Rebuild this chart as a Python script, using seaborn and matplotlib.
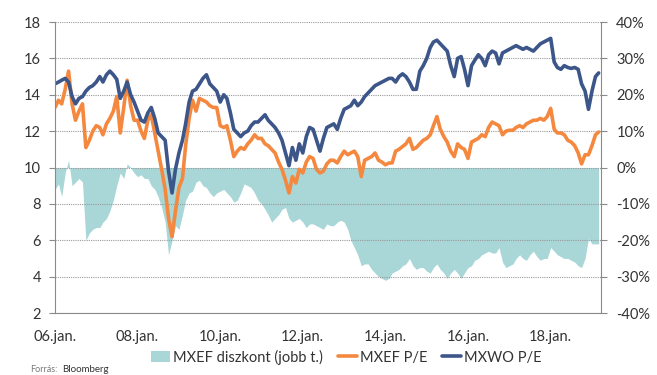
import pandas as pd
import seaborn as sns
import matplotlib.pyplot as plt
from matplotlib.patches import Patch
from matplotlib.lines import Line2D

# monthly values, Jan 2006 .. Mar 2019
mxwo_pe = [14.6, 14.7, 14.8, 14.9, 14.7, 13.9, 13.5, 13.8, 13.9, 14.2,
           14.4, 14.5, 14.7, 15.0, 14.7, 15.1, 15.3, 15.1, 14.85, 13.8,
           14.2, 14.7, 14.0, 13.6, 13.1, 12.6, 12.5, 13.0, 13.3, 12.7,
           11.9, 11.7, 11.5, 9.8, 8.6, 9.9, 10.8, 11.5, 12.4, 13.6,
           14.2, 14.3, 14.6, 14.9, 15.1, 14.6, 14.4, 14.2, 13.6, 14.0,
           13.8, 13.0, 12.1, 11.9, 11.7, 11.9, 12.0, 12.3, 12.5, 12.5,
           12.7, 12.9, 12.6, 12.4, 12.2, 11.9, 11.5, 10.8, 10.1, 11.1,
           10.4, 11.3, 10.8, 11.7, 12.2, 12.1, 11.5, 10.9, 11.6, 12.2,
           12.3, 12.4, 12.1, 12.7, 13.2, 13.3, 13.4, 13.7, 13.4, 13.6,
           13.9, 14.1, 14.3, 14.5, 14.6, 14.7, 14.8, 14.9, 14.9, 14.7,
           15.0, 15.15, 15.0, 14.7, 14.3, 14.3, 15.3, 15.6, 16.0, 16.6,
           16.9, 17.0, 16.8, 16.6, 16.4, 15.6, 15.0, 16.0, 16.1, 15.4,
           14.5, 15.6, 15.9, 16.2, 16.0, 15.6, 16.2, 16.4, 16.3, 15.7,
           16.3, 16.4, 16.5, 16.6, 16.7, 16.6, 16.5, 16.6, 16.5, 16.4,
           16.6, 16.8, 16.9, 17.0, 17.1, 15.8, 15.5, 15.4, 15.6, 15.5,
           15.45, 15.5, 15.4, 14.6, 14.2, 13.2, 14.2, 15.0, 15.2]

mxef_pe = [13.3, 13.7, 13.5, 14.3, 15.3, 13.5, 12.6, 13.1, 13.5, 11.1,
           11.5, 12.0, 12.3, 12.2, 11.8, 12.4, 12.7, 13.1, 13.9, 11.9,
           13.3, 14.8, 13.4, 12.6, 12.6, 12.0, 11.6, 12.6, 12.9, 11.9,
           10.9, 9.9, 8.8, 7.2, 6.2, 7.6, 8.9, 9.4, 11.2, 12.7,
           13.7, 13.1, 13.8, 13.7, 13.6, 13.4, 13.3, 13.3, 12.3, 12.2,
           12.3, 11.5, 10.6, 10.9, 11.1, 11.0, 11.3, 11.5, 11.8, 11.6,
           11.6, 11.3, 11.2, 11.0, 10.8, 10.3, 9.9, 9.3, 8.6, 9.5,
           9.15, 9.9, 9.7, 10.3, 10.6, 10.5, 9.9, 9.7, 9.8, 10.2,
           10.4, 10.4, 10.25, 10.6, 10.9, 10.7, 10.8, 10.9, 10.6, 9.5,
           10.4, 10.5, 10.6, 10.8, 10.4, 10.3, 10.15, 10.25, 10.25, 10.9,
           11.0, 11.15, 11.3, 11.6, 11.0, 11.1, 11.3, 11.5, 11.6, 11.8,
           12.3, 12.8, 12.1, 11.7, 11.4, 10.9, 10.6, 11.3, 11.1, 11.0,
           10.5, 11.4, 11.5, 11.6, 11.8, 11.7, 12.2, 12.5, 12.4, 12.3,
           11.8, 12.0, 12.05, 12.05, 12.2, 12.3, 12.2, 12.4, 12.5, 12.6,
           12.6, 12.7, 12.6, 12.8, 13.25, 12.1, 11.9, 11.9, 11.8, 11.5,
           11.4, 11.2, 10.8, 10.2, 10.7, 10.7, 11.2, 11.8, 11.95]

# discount in percent (right axis)
mxef_discount = [-6, -4.5, -8, -1.5, 2, -5, -4, -3, -4, -20,
                 -18, -17, -16.5, -16.5, -15, -14, -12, -9, -5, -1.5,
                 -3, 1, 0, -1.5, -2.5, -2, -3, -3, -5, -6,
                 -8, -11, -15, -24, -20, -16, -17, -13, -9, -7,
                 -6.5, -4, -3.5, -5, -5.5, -7, -8, -7, -6.5, -6,
                 -7, -8, -9.5, -9, -7, -4.5, -5, -5.5, -7, -9,
                 -10, -11.5, -13, -15, -14, -13, -11.5, -11, -14, -15,
                 -14.5, -14, -15, -16.5, -15.5, -15.5, -16, -16.5, -17, -15.5,
                 -16, -16, -15, -14.5, -15, -17, -20, -22, -24, -27,
                 -26.5, -26.5, -28, -29, -30, -30.5, -31, -30.5, -29, -28.5,
                 -28, -27, -26.5, -25, -27, -28, -27.5, -27.5, -28.5, -29,
                 -27.5, -26.5, -28, -29, -30.5, -29, -28, -29, -30.5, -29,
                 -27.5, -27, -25.5, -25, -24, -23.5, -23, -23.5, -23.5, -22,
                 -26, -27.5, -27, -26.5, -25, -24, -25, -25.5, -24, -23,
                 -24.5, -25.5, -25, -25, -22, -23, -24, -24.5, -25, -25,
                 -25.5, -26, -27, -27.5, -25, -19.5, -21, -21, -21]

xtick_dates = ["2006-01-01", "2008-01-01", "2010-01-01", "2012-01-01",
               "2014-01-01", "2016-01-01", "2018-01-01"]
xtick_labels = ["06.jan.", "08.jan.", "10.jan.", "12.jan.", "14.jan.", "16.jan.", "18.jan."]

dates = pd.date_range("2006-01-01", periods=len(mxwo_pe), freq="MS")
df = pd.DataFrame({"date": dates, "MXEF P/E": mxef_pe, "MXWO P/E": mxwo_pe,
                   "diszkont": mxef_discount})

navy = "#3d5689"
orange = "#f5883f"
teal = "#a9d6d7"
grey = "#8a8a8a"

sns.set_style("white")
plt.rcParams["font.family"] = ["Lato", "DejaVu Sans"]

fig, ax = plt.subplots(figsize=(6.57, 3.75), dpi=100)
fig.subplots_adjust(left=0.0837, right=0.9148, top=0.9413, bottom=0.1653)
ax2 = ax.twinx()

# area on the right axis, lines on the left axis drawn above it
ax2.fill_between(df["date"], df["diszkont"], 0, color=teal, lw=0)
ax.set_zorder(ax2.get_zorder() + 1)
ax.patch.set_visible(False)

sns.lineplot(data=df, x="date", y="MXEF P/E", ax=ax, color=orange, lw=2.6)
sns.lineplot(data=df, x="date", y="MXWO P/E", ax=ax, color=navy, lw=2.6)

ax.set_xlim(pd.Timestamp("2006-01-01"), pd.Timestamp("2019-03-22"))
ax.set_ylim(2, 18)
ax.set_yticks(range(2, 19, 2))
ax2.set_ylim(-40, 40)
ax2.set_yticks(range(-40, 41, 10))
ax2.set_yticklabels([f"{v}%" for v in range(-40, 41, 10)])
ax.set_xticks(pd.to_datetime(xtick_dates))
ax.set_xticklabels(xtick_labels)
ax.set_xlabel(None)
ax.set_ylabel(None)

ax.yaxis.grid(True, ls=(0, (1, 1)), color="#9a9a9a", lw=0.8)
ax.xaxis.grid(False)

for a in (ax, ax2):
    a.spines["top"].set_visible(False)
ax.spines["right"].set_visible(False)
ax2.spines["left"].set_visible(False)
ax2.spines["bottom"].set_visible(False)
ax.spines["left"].set_color(grey)
ax.spines["bottom"].set_color(grey)
ax2.spines["right"].set_color(grey)

ax.tick_params(axis="y", length=4, color=grey, labelsize=10.5, labelcolor="#333333", pad=6)
ax.tick_params(axis="x", direction="inout", length=8, color=grey, labelsize=10.5,
               labelcolor="#333333", pad=8)
ax2.tick_params(axis="y", length=4, color=grey, labelsize=10.5, labelcolor="#333333", pad=7)

handles = [Patch(color=teal, lw=0),
           Line2D([], [], color=orange, lw=2.6),
           Line2D([], [], color=navy, lw=2.6)]
labels = ["MXEF diszkont (jobb t.)", "MXEF P/E", "MXWO P/E"]
fig.legend(handles, labels, loc="center", bbox_to_anchor=(0.527, 0.048), ncol=3,
           frameon=False, fontsize=10.5, handlelength=1.3, handletextpad=0.2,
           columnspacing=1.0, labelcolor="#333333")

fig.text(0.046, 0.016, "Forrás:", fontsize=6.5, color="#777777", va="center")
fig.text(0.094, 0.016, "Bloomberg", fontsize=7, color="#333333", va="center")

plt.savefig("out.png", dpi=100)
